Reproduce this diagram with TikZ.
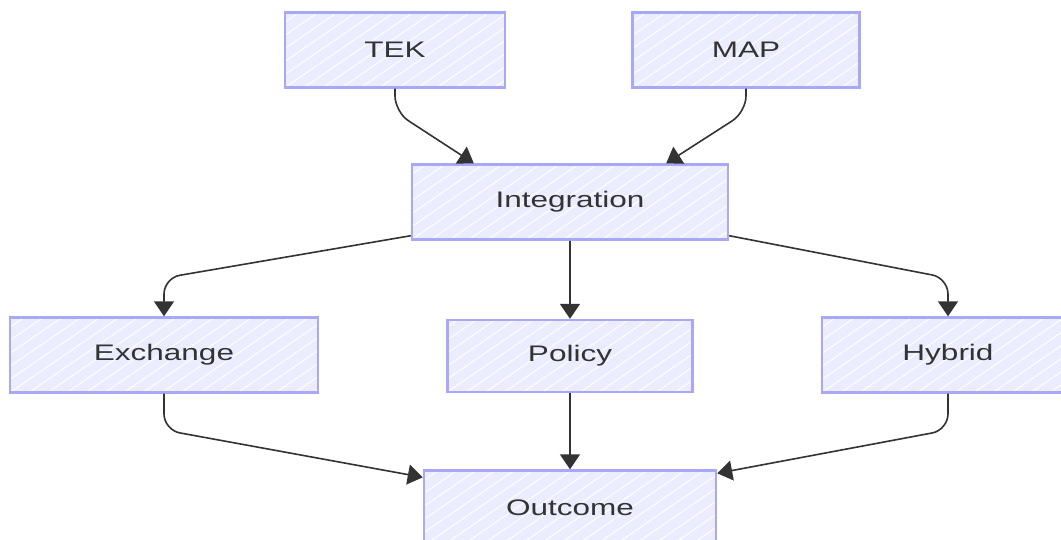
\documentclass[tikz,border=0pt]{standalone}
\usepackage{fontspec}
\newfontfamily\lbl[FakeStretch=1.4]{Liberation Sans}
\usetikzlibrary{arrows.meta,calc}
\definecolor{boxfill}{HTML}{ECECFF}
\definecolor{boxline}{HTML}{A8A8F6}
\definecolor{ink}{HTML}{333333}
\tikzset{
  box/.style={draw=boxline, line width=2.4pt, fill=boxfill, minimum height=75pt,
    inner sep=0pt, text=ink, font=\lbl\fontsize{22.5}{26}\selectfont,
    path picture={
      \foreach \i in {-20,...,25}
        \draw[white, line width=1pt]
          ($(path picture bounding box.south west)+(\i*19pt,0pt)$) -- ++(160pt,110pt);
    }},
  arr/.style={draw=ink, line width=1.6pt, rounded corners=16pt,
    -{Triangle[width=20pt,length=15pt]}},
}
\begin{document}
\begin{tikzpicture}[x=1pt,y=-1pt]
\useasboundingbox (0,0) rectangle (1061,539);
\clip (0,0) rectangle (1061,539);
\fill[white] (0,0) rectangle (1061,539);

% nodes
\node[box, minimum width=220pt] (tek) at (395,50) {TEK};
\node[box, minimum width=227pt] (map) at (746,50) {MAP};
\node[box, minimum width=316pt] (integ) at (570,202) {Integration};
\node[box, minimum width=308pt] (exch) at (164,355) {Exchange};
\node[box, minimum width=245pt, minimum height=72pt] (pol) at (570,356) {Policy};
\node[box, minimum width=252pt] (hyb) at (948,355) {Hybrid};
\node[box, minimum width=292pt] (out) at (570,508) {Outcome};

% connector waypoints
\coordinate (t1) at (395,112);
\coordinate (m1) at (746,112);
\coordinate (e1) at (164,278);
\coordinate (h1) at (948,278);
\coordinate (e2) at (164,430);
\coordinate (h2) at (948,430);

% connectors
\draw[arr] (tek.south) -- (t1) -- ($(integ.north west)+(63,0)$);
\draw[arr] (map.south) -- (m1) -- ($(integ.north east)+(-63,0)$);
\draw[arr] ($(integ.south west)+(0,-5)$) -- (e1) -- (exch.north);
\draw[arr] (integ.south) -- (pol.north);
\draw[arr] ($(integ.south east)+(0,-5)$) -- (h1) -- (hyb.north);
\draw[arr] (exch.south) -- (e2) -- ($(out.north west)+(0,8)$);
\draw[arr] (pol.south) -- (out.north);
\draw[arr] (hyb.south) -- (h2) -- ($(out.north east)+(0,4)$);
\end{tikzpicture}
\end{document}
